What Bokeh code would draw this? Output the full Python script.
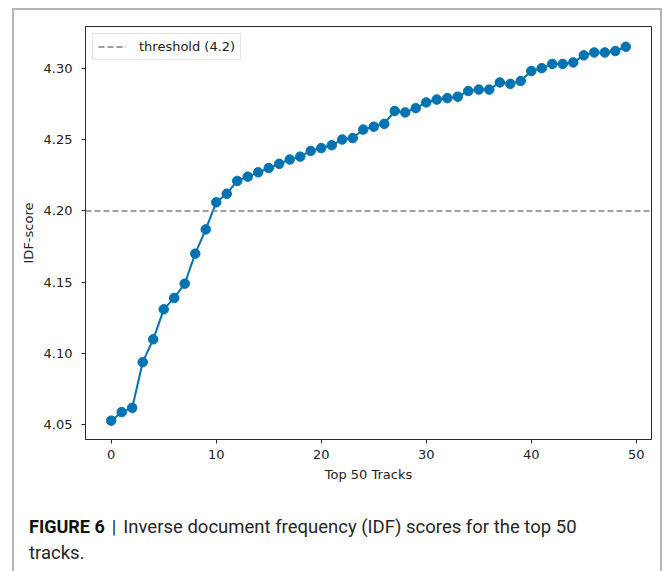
from bokeh.plotting import figure
from bokeh.layouts import column
from bokeh.models import (Range1d, Span, Legend, LegendItem, Div, FixedTicker,
                          NumeralTickFormatter)
from bokeh.embed import file_html
from bokeh.resources import INLINE

# ---- data ----
tracks = list(range(50))
idf_scores = [4.053, 4.059, 4.062, 4.094, 4.110, 4.131, 4.139, 4.149, 4.170, 4.187,
              4.206, 4.212, 4.221, 4.224, 4.227, 4.230, 4.233, 4.236, 4.238, 4.242,
              4.244, 4.246, 4.250, 4.251, 4.257, 4.259, 4.261, 4.270, 4.269, 4.272,
              4.276, 4.278, 4.279, 4.280, 4.284, 4.285, 4.285, 4.290, 4.289, 4.291,
              4.298, 4.300, 4.303, 4.303, 4.304, 4.309, 4.311, 4.311, 4.312, 4.315]
threshold = 4.2
threshold_label = "threshold (4.2)"
x_ticks = [0, 10, 20, 30, 40, 50]
y_ticks = [4.05, 4.10, 4.15, 4.20, 4.25, 4.30]
x_label = "Top 50 Tracks"
y_label = "IDF-score"
caption_bold = "FIGURE 6"
caption_sep = "|"
caption_line1 = "Inverse document frequency (IDF) scores for the top 50"
caption_line2 = "tracks."

BLUE = "#0173b2"
AX = "#2a2a2a"
FONT = "DejaVu Sans"

p = figure(width=646, height=480, output_backend="svg", toolbar_location=None,
           x_range=Range1d(-2.45, 51.45), y_range=Range1d(4.0398, 4.3292),
           min_border_left=71, min_border_right=9, min_border_top=16,
           min_border_bottom=51, margin=0)
p.xgrid.visible = False
p.ygrid.visible = False
p.outline_line_color = AX
p.outline_line_width = 1
p.outline_line_alpha = 1

# threshold line
span = Span(location=threshold, dimension="width", line_color="#808080",
            line_dash="6 3", line_width=1.5)
p.add_layout(span)
legend_proxy = p.line(x=[tracks[0]], y=[threshold], line_color="#808080",
                      line_dash="6 3", line_width=1.5)

# series
p.line(tracks, idf_scores, line_color=BLUE, line_width=2)
p.scatter(tracks, idf_scores, size=9.5, fill_color=BLUE, line_color=BLUE)

# axes
for ax in (p.xaxis[0], p.yaxis[0]):
    ax.axis_line_color = AX
    ax.major_tick_line_color = AX
    ax.major_tick_out = 4
    ax.major_tick_in = 0
    ax.minor_tick_line_color = None
    ax.major_label_text_font = FONT
    ax.major_label_text_font_size = "13px"
    ax.major_label_text_color = "#222222"
    ax.axis_label_text_font = FONT
    ax.axis_label_text_font_size = "13px"
    ax.axis_label_text_font_style = "normal"
    ax.axis_label_text_color = "#222222"

p.xaxis.ticker = FixedTicker(ticks=x_ticks)
p.yaxis.ticker = FixedTicker(ticks=y_ticks)
p.yaxis.formatter = NumeralTickFormatter(format="0.00")
p.xaxis.axis_label = x_label
p.yaxis.axis_label = y_label
p.xaxis.major_label_standoff = 6
p.xaxis.axis_label_standoff = 5
p.yaxis.major_label_standoff = 9
p.yaxis.axis_label_standoff = 5

legend = Legend(items=[LegendItem(label=threshold_label, renderers=[legend_proxy])],
                location="top_left", margin=7, padding=5,
                border_line_color="#cccccc", border_line_width=1,
                label_text_font=FONT, label_text_font_size="13px",
                label_text_color="#222222",
                glyph_width=28, glyph_height=15, label_standoff=13, spacing=0)
p.add_layout(legend)

# caption
caption_html = (
    "<div style='font-family:Roboto,sans-serif;font-size:18.5px;line-height:26px;"
    "color:#262626;padding:24px 0 0 15px;white-space:nowrap'>"
    f"<span style='font-weight:bold;font-size:18px;color:#111111'>{caption_bold}</span>"
    f"<span style='margin:0 7px 0 7px'>{caption_sep}</span>"
    f"{caption_line1}<br>{caption_line2}</div>"
)
cap = Div(text=caption_html, width=646, height=81, margin=0)

layout = column(p, cap, margin=(8, 0, 0, 12),
                styles={"border-top": "2px solid #b5b5b5",
                        "border-left": "2px solid #b5b5b5",
                        "border-right": "2px solid #b5b5b5"})

open("out.html", "w").write(file_html(layout, INLINE))
